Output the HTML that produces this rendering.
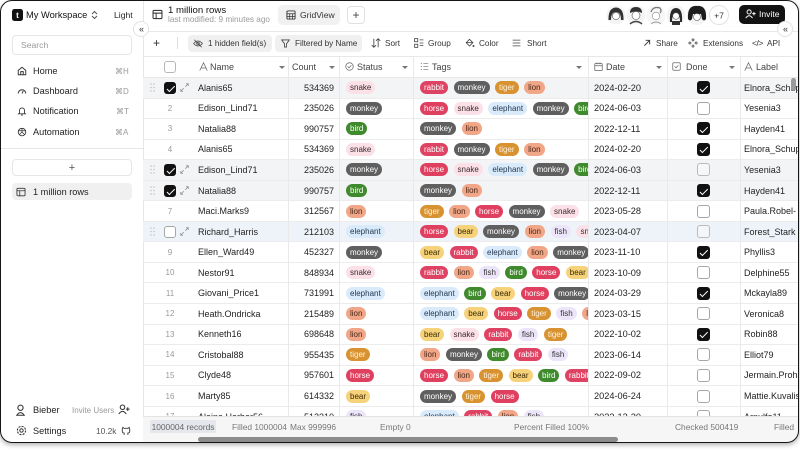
<!DOCTYPE html>
<html><head><meta charset="utf-8">
<style>
*{box-sizing:border-box}
body{margin:0;width:800px;height:450px;background:#fff;overflow:hidden;font-family:"Liberation Sans",Arial,sans-serif;color:#222;position:relative}
#fr{position:absolute;left:0;top:0;width:799px;height:443px;border-radius:12px;overflow:hidden;background:#fff;box-shadow:0 2px 5px rgba(0,0,0,.3)}
#bd{position:absolute;left:0;top:0;width:799px;height:443px;border:1.5px solid #151515;border-radius:12px;pointer-events:none}
.c{position:absolute;display:flex;align-items:center;white-space:nowrap}
.ic{position:absolute}
.sbt{font-size:9.2px;color:#222}
.kb{font-size:8px;color:#9a9a9a}
.tb{font-size:8.2px;color:#333}
.hd{font-size:9px;color:#444}
.car{position:absolute;top:65.5px;width:0;height:0;border-left:3px solid transparent;border-right:3px solid transparent;border-top:3.5px solid #777}
.vl{position:absolute;top:56px;height:360px;width:1px;background:#e9e9e9}
.r{position:absolute;left:143px;width:656px;height:20.55px;border-bottom:1px solid #ececec;font-size:9px;color:#222}
.r.sel{background:#f3f4f6}
.r.hov{background:#eef3f9}
.r>div{position:absolute;top:0;height:100%;display:flex;align-items:center;white-space:nowrap}
.no{left:17px;width:20px;justify-content:center;font-size:8px;color:#999}
.nm{left:55px}
.ct{left:145px;width:46px;justify-content:flex-end}
.st{left:203px}
.tg{left:277px;width:168px;overflow:hidden}
.dt{left:451px;font-size:9.2px}
.dn{left:554px}
.lb{left:601px}
.g{display:inline-block;flex:none;height:13px;line-height:13px;padding:0 4px;border-radius:6.5px;font-size:8px;margin-right:5.5px}
.rb{background:#df4363;color:#fff}
.ho{background:#e0405f;color:#fff}
.mo{background:#5f5f5f;color:#fff}
.ti{background:#d8922f;color:#fdf3e0}
.li{background:#f0a687;color:#4a2818}
.sn{background:#fbe1e7;color:#3a2a2e}
.el{background:#d9eafa;color:#1f3550}
.bi{background:#3f8a2c;color:#fff}
.be{background:#f6d27b;color:#3a2a00}
.fi{background:#ece5fa;color:#333}
.cb{display:inline-block;width:13px;height:13px;border:1px solid #a6a6a6;border-radius:3px;position:relative;background:#fff}
.cb.on{background:#111;border-color:#111}
.cb.on:after{content:"";position:absolute;left:4px;top:1.5px;width:3px;height:6.5px;border-right:1.6px solid #fff;border-bottom:1.6px solid #fff;transform:rotate(45deg)}
.sm{width:12px;height:12px}
.sm.on:after{left:3.6px;top:1.2px}
.hdl{left:7px;width:6px}
.ck{left:21px}
.ex{left:37px}
</style></head><body>
<div id="fr">
<!-- sidebar -->
<div style="position:absolute;left:0;top:0;width:144px;height:443px;border-right:1px solid #e6e6e6"></div>
<div class="c" style="left:12px;top:9px;width:11px;height:12px;background:#111;border-radius:2.5px;justify-content:center;color:#fff;font-size:8px;font-weight:bold">t</div>
<div class="c" style="left:26px;top:8px;height:14px;font-size:9.3px;color:#111">My Workspace</div>
<svg class="ic" style="left:91px;top:10px" width="7" height="10" viewBox="0 0 7 10"><path d="M1 4 L3.5 1.5 L6 4 M1 6 L3.5 8.5 L6 6" stroke="#555" fill="none" stroke-width="1"/></svg>
<div class="c" style="left:114px;top:8px;height:14px;font-size:8.6px;color:#222">Light</div>
<div class="c" style="left:12px;top:35px;width:120px;height:20px;border:1px solid #e6e6e6;border-radius:4px;padding-left:8px;font-size:8.6px;color:#999">Search</div>

<svg class="ic" style="left:17px;top:66px" width="10" height="10" viewBox="0 0 16 16"><path d="M2 7 L8 2 L14 7 V14 H2 Z M6 14 V9 H10 V14" stroke="#333" fill="none" stroke-width="1.5"/></svg>
<div class="c sbt" style="left:33px;top:64px;height:14px">Home</div>
<div class="c kb" style="left:115px;top:64px;height:14px">⌘H</div>
<svg class="ic" style="left:17px;top:86px" width="10" height="10" viewBox="0 0 16 16"><path d="M2 12 A6 6 0 0 1 14 12" stroke="#333" fill="none" stroke-width="1.6"/><path d="M8 12 L10 8" stroke="#333" stroke-width="1.4"/></svg>
<div class="c sbt" style="left:33px;top:84px;height:14px">Dashboard</div>
<div class="c kb" style="left:115px;top:84px;height:14px">⌘D</div>
<svg class="ic" style="left:17px;top:106px" width="10" height="10" viewBox="0 0 16 16"><path d="M4 11 V7 A4 4 0 0 1 12 7 V11 L13.5 12.5 H2.5 Z M6.5 14.5 H9.5" stroke="#333" fill="none" stroke-width="1.4"/></svg>
<div class="c sbt" style="left:33px;top:104px;height:14px">Notification</div>
<div class="c kb" style="left:116px;top:104px;height:14px">⌘T</div>
<svg class="ic" style="left:17px;top:127px" width="10" height="10" viewBox="0 0 16 16"><circle cx="8" cy="8" r="6" stroke="#333" fill="none" stroke-width="1.4"/><path d="M3 6 H13 M8 2 V8 L4 12 M8 8 L12 12" stroke="#333" fill="none" stroke-width="1.2"/></svg>
<div class="c sbt" style="left:33px;top:125px;height:14px">Automation</div>
<div class="c kb" style="left:115px;top:125px;height:14px">⌘A</div>
<div style="position:absolute;left:0;top:148px;width:143px;height:1px;background:#e6e6e6"></div>
<div class="c" style="left:12px;top:159px;width:120px;height:17px;border:1px solid #e6e6e6;border-radius:4px;justify-content:center;font-size:11px;color:#555">+</div>
<div class="c" style="left:12px;top:183px;width:120px;height:17px;background:#f0f0f0;border-radius:4px"></div>
<svg class="ic" style="left:16px;top:187px" width="10" height="10" viewBox="0 0 16 16"><rect x="1.5" y="2" width="13" height="12" rx="1.5" stroke="#333" fill="none" stroke-width="1.4"/><path d="M1.5 6 H14.5 M6 6 V14" stroke="#333" stroke-width="1.3"/></svg>
<div class="c sbt" style="left:33px;top:185px;height:14px">1 million rows</div>

<svg class="ic" style="left:16px;top:404px" width="9" height="12" viewBox="0 0 12 16"><circle cx="6" cy="5" r="3.5" stroke="#333" fill="none" stroke-width="1.4"/><path d="M1 15 Q6 8 11 15 Z" stroke="#333" fill="none" stroke-width="1.4"/></svg>
<div class="c sbt" style="left:33px;top:403px;height:14px">Bieber</div>
<div class="c" style="left:72px;top:403px;height:14px;font-size:8px;color:#999">Invite Users</div>
<svg class="ic" style="left:118px;top:404px" width="12" height="11" viewBox="0 0 16 14"><circle cx="6" cy="4" r="3" stroke="#333" fill="none" stroke-width="1.4"/><path d="M1 13 Q6 6 11 13 M13 4 V9 M10.5 6.5 H15.5" stroke="#333" fill="none" stroke-width="1.4"/></svg>
<svg class="ic" style="left:16px;top:425px" width="11" height="11" viewBox="0 0 16 16"><circle cx="8" cy="8" r="2.5" stroke="#333" fill="none" stroke-width="1.4"/><circle cx="8" cy="8" r="6" stroke="#333" fill="none" stroke-width="1.6" stroke-dasharray="3 1.7"/></svg>
<div class="c sbt" style="left:33px;top:424px;height:14px">Settings</div>
<div class="c" style="left:96px;top:424px;height:14px;font-size:8.4px;color:#555">10.2k</div>
<svg class="ic" style="left:121px;top:425px" width="10" height="11" viewBox="0 0 16 16"><path d="M5 15 V12 Q2 12 2 9 V6 L3 3 L5 4.5 H11 L13 3 L14 6 V9 Q14 12 11 12 V15" stroke="#333" fill="none" stroke-width="1.4"/></svg>

<!-- top header -->
<svg class="ic" style="left:152px;top:9px" width="11" height="11" viewBox="0 0 16 16"><rect x="1.5" y="2" width="13" height="12" rx="1.5" stroke="#222" fill="none" stroke-width="1.4"/><path d="M1.5 6 H14.5 M6 6 V14" stroke="#222" stroke-width="1.3"/></svg>
<div class="c" style="left:168px;top:4px;height:12px;font-size:9.6px;color:#111">1 million rows</div>
<div class="c" style="left:168px;top:14px;height:10px;font-size:8.2px;color:#9a9a9a">last modified: 9 minutes ago</div>
<div class="c" style="left:278px;top:5px;width:62px;height:20px;background:#f1f1f1;border-radius:5px"></div>
<svg class="ic" style="left:286px;top:10px" width="10" height="10" viewBox="0 0 16 16"><rect x="1.5" y="1.5" width="13" height="13" rx="1.5" stroke="#333" fill="none" stroke-width="1.5"/><path d="M1.5 6 H14.5 M1.5 10.5 H14.5 M6 6 V14.5 M10.5 6 V14.5" stroke="#333" stroke-width="1.2"/></svg>
<div class="c" style="left:300px;top:8px;height:14px;font-size:8.6px;color:#333">GridView</div>
<div class="c" style="left:347px;top:6px;width:18px;height:18px;border:1px solid #e0e0e0;border-radius:4px;justify-content:center;font-size:12px;color:#444">+</div>

<!-- avatars -->
<svg class="ic" style="left:605px;top:4px" width="126" height="22" viewBox="0 0 126 22">
<g><circle cx="11" cy="11" r="9.5" fill="#f4f4f4"/><path d="M3.5 16 Q3 4 11 3.5 Q19 4 18.5 16 L16 16 Q16 8 11 8 Q6 8 6 16 Z" fill="#333"/><circle cx="11" cy="12" r="3.6" fill="#fff" stroke="#555" stroke-width=".6"/></g>
<g><circle cx="31" cy="11" r="9.5" fill="#f4f4f4"/><path d="M25 9 Q25 3 31 3 Q37 3 37 9 Q31 6 25 9Z" fill="#333"/><circle cx="31" cy="11.5" r="4" fill="#fff" stroke="#555" stroke-width=".6"/><path d="M25 20 Q31 15 37 20" stroke="#444" fill="none" stroke-width="1.5"/></g>
<g><circle cx="51" cy="11" r="9.5" fill="#f6f6f6"/><path d="M46 8 Q48 2 55 4 Q57 7 55 9" stroke="#777" fill="none" stroke-width="1.2"/><circle cx="51" cy="12" r="3.8" fill="#fff" stroke="#888" stroke-width=".6"/><path d="M46 20 Q51 16 56 20" stroke="#999" fill="none"/></g>
<g><circle cx="71" cy="11" r="9.5" fill="#f4f4f4"/><path d="M65 18 Q64 4 71 4 Q78 4 77 18 L75 18 Q75 9 71 9 Q67 9 67 18Z" fill="#2a2a2a"/><circle cx="71" cy="12" r="3.3" fill="#fff" stroke="#555" stroke-width=".6"/><rect x="67" y="17" width="8" height="4" fill="#333"/></g>
<g><circle cx="92" cy="11" r="10" fill="#f4f4f4"/><path d="M83 15 Q82 1 92 2 Q102 1 101 15 Q99 18 97 15 L96 10 L88 10 L87 15 Q85 18 83 15Z" fill="#1e1e1e"/><circle cx="92" cy="13" r="3.5" fill="#fff" stroke="#555" stroke-width=".6"/></g>
<circle cx="114" cy="11" r="9.5" fill="#fff" stroke="#e2e2e2"/>
<text x="114" y="14.3" text-anchor="middle" font-family="Liberation Sans, Arial, sans-serif" font-size="8.6" fill="#333">+7</text>
</svg>
<div class="c" style="left:739px;top:5px;width:46px;height:19px;background:#121212;border-radius:5px"></div>
<svg class="ic" style="left:745px;top:9px" width="11" height="10" viewBox="0 0 16 14"><circle cx="6" cy="4" r="3" stroke="#fff" fill="none" stroke-width="1.4"/><path d="M1 13 Q6 6 11 13 M13 4 V9 M10.5 6.5 H15.5" stroke="#fff" fill="none" stroke-width="1.4"/></svg>
<div class="c" style="left:759px;top:7px;height:14px;font-size:8.6px;color:#fff">Invite</div>

<div style="position:absolute;left:143px;top:31px;width:656px;height:1px;background:#e8e8e8"></div>

<!-- toolbar -->
<div class="c" style="left:153px;top:36px;height:14px;font-size:12px;color:#333">+</div>
<div style="position:absolute;left:177px;top:37px;width:1px;height:12px;background:#ddd"></div>
<div style="position:absolute;left:188px;top:35px;width:84px;height:17px;background:#f0f0f0;border-radius:4px"></div>
<svg class="ic" style="left:193px;top:39px" width="10" height="9" viewBox="0 0 16 14"><path d="M1 7 Q8 -1 15 7 Q8 15 1 7Z" stroke="#444" fill="none" stroke-width="1.3"/><circle cx="8" cy="7" r="2.2" stroke="#444" fill="none" stroke-width="1.2"/><path d="M2 1 L14 13" stroke="#444" stroke-width="1.3"/></svg>
<div class="c tb" style="left:208px;top:36px;height:14px">1 hidden field(s)</div>
<div style="position:absolute;left:275px;top:35px;width:87px;height:17px;background:#f0f0f0;border-radius:4px"></div>
<svg class="ic" style="left:281px;top:39px" width="9" height="9" viewBox="0 0 14 14"><path d="M1 1.5 H13 L8.5 7.5 V12.5 H5.5 V7.5 Z" stroke="#444" fill="none" stroke-width="1.3"/></svg>
<div class="c tb" style="left:295px;top:36px;height:14px">Filtered by Name</div>
<svg class="ic" style="left:371px;top:38px" width="10" height="10" viewBox="0 0 14 14"><path d="M4 1 V13 M1 10 L4 13 L7 10 M10 13 V1 M7 4 L10 1 L13 4" stroke="#444" fill="none" stroke-width="1.2"/></svg>
<div class="c tb" style="left:385px;top:36px;height:14px">Sort</div>
<svg class="ic" style="left:414px;top:38px" width="10" height="10" viewBox="0 0 16 16"><rect x="1" y="1" width="5" height="5" stroke="#444" fill="none" stroke-width="1.3"/><rect x="1" y="10" width="5" height="5" stroke="#444" fill="none" stroke-width="1.3"/><path d="M9 3 H15 M9 8 H15 M9 12 H15" stroke="#444" stroke-width="1.3"/></svg>
<div class="c tb" style="left:428px;top:36px;height:14px">Group</div>
<svg class="ic" style="left:464px;top:38px" width="11" height="10" viewBox="0 0 16 15"><path d="M3 7 L8 2 L13 7 L8 12 Z" stroke="#444" fill="none" stroke-width="1.3"/><path d="M3 7 H13" stroke="#444" stroke-width="1.2"/><circle cx="14" cy="12" r="1.5" fill="#444"/></svg>
<div class="c tb" style="left:479px;top:36px;height:14px">Color</div>
<svg class="ic" style="left:512px;top:39px" width="9" height="8" viewBox="0 0 14 12"><path d="M1 1.5 H13 M1 6 H13 M1 10.5 H13" stroke="#444" stroke-width="1.3"/></svg>
<div class="c tb" style="left:527px;top:36px;height:14px">Short</div>
<svg class="ic" style="left:643px;top:39px" width="8" height="8" viewBox="0 0 12 12"><path d="M2 10 L10 2 M4 2 H10 V8" stroke="#333" fill="none" stroke-width="1.4"/></svg>
<div class="c tb" style="left:656px;top:36px;height:14px">Share</div>
<svg class="ic" style="left:688px;top:38px" width="10" height="10" viewBox="0 0 16 16"><path d="M8 1 L10 3 L8 5 L6 3Z M8 11 L10 13 L8 15 L6 13Z M1 8 L3 6 L5 8 L3 10Z M11 8 L13 6 L15 8 L13 10Z" stroke="#444" fill="none" stroke-width="1.1"/></svg>
<div class="c tb" style="left:703px;top:36px;height:14px">Extensions</div>
<div class="c" style="left:752px;top:36px;height:14px;font-size:8.5px;color:#333;letter-spacing:-.5px">&lt;/&gt;</div>
<div class="c tb" style="left:767px;top:36px;height:14px">API</div>

<!-- table header -->
<div style="position:absolute;left:143px;top:56px;width:656px;height:1px;background:#e8e8e8"></div>
<div style="position:absolute;left:143px;top:77px;width:656px;height:1px;background:#e8e8e8"></div>
<div style="position:absolute;left:164px;top:61px;width:12px;height:12px;border:1px solid #b8b8b8;border-radius:3px"></div>
<svg class="ic" style="left:199px;top:62px" width="9" height="9" viewBox="0 0 12 12"><path d="M1 11.5 L6 1 L11 11.5 M3 8 H9" stroke="#666" fill="none" stroke-width="1"/></svg>
<div class="c hd" style="left:210px;top:60px;height:14px">Name</div>
<div class="car" style="left:279px"></div>
<div class="c hd" style="left:292px;top:60px;height:14px">Count</div>
<div class="car" style="left:329px"></div>
<svg class="ic" style="left:345px;top:62px" width="9" height="9" viewBox="0 0 12 12"><circle cx="6" cy="6" r="5" stroke="#666" fill="none" stroke-width="1"/><path d="M3.5 6 L5.3 7.8 L8.5 4.5" stroke="#666" fill="none" stroke-width="1"/></svg>
<div class="c hd" style="left:357px;top:60px;height:14px">Status</div>
<div class="car" style="left:402px"></div>
<svg class="ic" style="left:420px;top:62px" width="9" height="9" viewBox="0 0 12 12"><path d="M4.5 2 H11 M4.5 6 H11 M4.5 10 H11" stroke="#888" stroke-width="1"/><circle cx="1.8" cy="2" r=".8" fill="#888"/><circle cx="1.8" cy="6" r=".8" fill="#888"/><circle cx="1.8" cy="10" r=".8" fill="#888"/></svg>
<div class="c hd" style="left:432px;top:60px;height:14px">Tags</div>
<div class="car" style="left:576px"></div>
<svg class="ic" style="left:594px;top:62px" width="9" height="9" viewBox="0 0 12 12"><rect x="1" y="2" width="10" height="9.5" rx="1" stroke="#666" fill="none" stroke-width="1"/><path d="M1 5 H11 M4 0.5 V3 M8 0.5 V3" stroke="#666" stroke-width="1"/></svg>
<div class="c hd" style="left:606px;top:60px;height:14px">Date</div>
<div class="car" style="left:656px"></div>
<svg class="ic" style="left:672px;top:62px" width="9" height="9" viewBox="0 0 12 12"><rect x="1" y="1" width="10" height="10" rx="1.5" stroke="#666" fill="none" stroke-width="1"/><path d="M3.5 6 L5.3 7.8 L8.5 4.5" stroke="#666" fill="none" stroke-width="1"/></svg>
<div class="c hd" style="left:686px;top:60px;height:14px">Done</div>
<div class="car" style="left:729px"></div>
<svg class="ic" style="left:744px;top:62px" width="9" height="9" viewBox="0 0 12 12"><path d="M1 11.5 L6 1 L11 11.5 M3 8 H9" stroke="#666" fill="none" stroke-width="1"/></svg>
<div class="c hd" style="left:756px;top:60px;height:14px">Label</div>

<!-- rows -->
<div class="r sel" style="top:78px"><div class="hdl"><svg width="6" height="9"><g fill="#c4c4c4"><circle cx="1" cy="1" r=".8"/><circle cx="4" cy="1" r=".8"/><circle cx="1" cy="4.5" r=".8"/><circle cx="4" cy="4.5" r=".8"/><circle cx="1" cy="8" r=".8"/><circle cx="4" cy="8" r=".8"/></g></svg></div><div class="ck"><span class="cb sm on"></span></div><div class="ex"><svg width="9" height="9" viewBox="0 0 12 12"><path d="M7 5 L11 1 M8 1 H11 V4 M5 7 L1 11 M1 8 V11 H4" stroke="#888" fill="none" stroke-width="1"/></svg></div><div class="nm">Alanis65</div><div class="ct">534369</div><div class="st"><span class="g sn">snake</span></div><div class="tg"><span class="g rb">rabbit</span><span class="g mo">monkey</span><span class="g ti">tiger</span><span class="g li">lion</span></div><div class="dt">2024-02-20</div><div class="dn"><span class="cb on"></span></div><div class="lb">Elnora_Schuppe</div></div>

<div class="r" style="top:98.55px"><div class="no">2</div><div class="nm">Edison_Lind71</div><div class="ct">235026</div><div class="st"><span class="g mo">monkey</span></div><div class="tg"><span class="g ho">horse</span><span class="g sn">snake</span><span class="g el">elephant</span><span class="g mo">monkey</span><span class="g bi">bird</span></div><div class="dt">2024-06-03</div><div class="dn"><span class="cb"></span></div><div class="lb">Yesenia3</div></div>

<div class="r" style="top:119.1px"><div class="no">3</div><div class="nm">Natalia88</div><div class="ct">990757</div><div class="st"><span class="g bi">bird</span></div><div class="tg"><span class="g mo">monkey</span><span class="g li">lion</span></div><div class="dt">2022-12-11</div><div class="dn"><span class="cb on"></span></div><div class="lb">Hayden41</div></div>

<div class="r" style="top:139.65px"><div class="no">4</div><div class="nm">Alanis65</div><div class="ct">534369</div><div class="st"><span class="g sn">snake</span></div><div class="tg"><span class="g rb">rabbit</span><span class="g mo">monkey</span><span class="g ti">tiger</span><span class="g li">lion</span></div><div class="dt">2024-02-20</div><div class="dn"><span class="cb on"></span></div><div class="lb">Elnora_Schuppe</div></div>

<div class="r sel" style="top:160.2px"><div class="hdl"><svg width="6" height="9"><g fill="#c4c4c4"><circle cx="1" cy="1" r=".8"/><circle cx="4" cy="1" r=".8"/><circle cx="1" cy="4.5" r=".8"/><circle cx="4" cy="4.5" r=".8"/><circle cx="1" cy="8" r=".8"/><circle cx="4" cy="8" r=".8"/></g></svg></div><div class="ck"><span class="cb sm on"></span></div><div class="ex"><svg width="9" height="9" viewBox="0 0 12 12"><path d="M7 5 L11 1 M8 1 H11 V4 M5 7 L1 11 M1 8 V11 H4" stroke="#888" fill="none" stroke-width="1"/></svg></div><div class="nm">Edison_Lind71</div><div class="ct">235026</div><div class="st"><span class="g mo">monkey</span></div><div class="tg"><span class="g ho">horse</span><span class="g sn">snake</span><span class="g el">elephant</span><span class="g mo">monkey</span><span class="g bi">bird</span></div><div class="dt">2024-06-03</div><div class="dn"><span class="cb" style="background:#f7f7f7;border-color:#bbb"></span></div><div class="lb">Yesenia3</div></div>

<div class="r sel" style="top:180.75px"><div class="hdl"><svg width="6" height="9"><g fill="#c4c4c4"><circle cx="1" cy="1" r=".8"/><circle cx="4" cy="1" r=".8"/><circle cx="1" cy="4.5" r=".8"/><circle cx="4" cy="4.5" r=".8"/><circle cx="1" cy="8" r=".8"/><circle cx="4" cy="8" r=".8"/></g></svg></div><div class="ck"><span class="cb sm on"></span></div><div class="ex"><svg width="9" height="9" viewBox="0 0 12 12"><path d="M7 5 L11 1 M8 1 H11 V4 M5 7 L1 11 M1 8 V11 H4" stroke="#888" fill="none" stroke-width="1"/></svg></div><div class="nm">Natalia88</div><div class="ct">990757</div><div class="st"><span class="g bi">bird</span></div><div class="tg"><span class="g mo">monkey</span><span class="g li">lion</span></div><div class="dt">2022-12-11</div><div class="dn"><span class="cb on"></span></div><div class="lb">Hayden41</div></div>

<div class="r" style="top:201.3px"><div class="no">7</div><div class="nm">Maci.Marks9</div><div class="ct">312567</div><div class="st"><span class="g li">lion</span></div><div class="tg"><span class="g ti">tiger</span><span class="g li">lion</span><span class="g ho">horse</span><span class="g mo">monkey</span><span class="g sn">snake</span></div><div class="dt">2023-05-28</div><div class="dn"><span class="cb"></span></div><div class="lb">Paula.Robel-</div></div>

<div class="r hov" style="top:221.85px"><div class="hdl"><svg width="6" height="9"><g fill="#c4c4c4"><circle cx="1" cy="1" r=".8"/><circle cx="4" cy="1" r=".8"/><circle cx="1" cy="4.5" r=".8"/><circle cx="4" cy="4.5" r=".8"/><circle cx="1" cy="8" r=".8"/><circle cx="4" cy="8" r=".8"/></g></svg></div><div class="ck"><span class="cb sm"></span></div><div class="ex"><svg width="9" height="9" viewBox="0 0 12 12"><path d="M7 5 L11 1 M8 1 H11 V4 M5 7 L1 11 M1 8 V11 H4" stroke="#888" fill="none" stroke-width="1"/></svg></div><div class="nm">Richard_Harris</div><div class="ct">212103</div><div class="st"><span class="g el">elephant</span></div><div class="tg"><span class="g ho">horse</span><span class="g be">bear</span><span class="g mo">monkey</span><span class="g li">lion</span><span class="g fi">fish</span><span class="g sn">snake</span></div><div class="dt">2023-04-07</div><div class="dn"><span class="cb" style="background:#f4f6f9;border-color:#bbb"></span></div><div class="lb">Forest_Stark</div></div>

<div class="r" style="top:242.4px"><div class="no">9</div><div class="nm">Ellen_Ward49</div><div class="ct">452327</div><div class="st"><span class="g mo">monkey</span></div><div class="tg"><span class="g be">bear</span><span class="g rb">rabbit</span><span class="g el">elephant</span><span class="g li">lion</span><span class="g mo">monkey</span></div><div class="dt">2023-11-10</div><div class="dn"><span class="cb on"></span></div><div class="lb">Phyllis3</div></div>

<div class="r" style="top:262.95px"><div class="no">10</div><div class="nm">Nestor91</div><div class="ct">848934</div><div class="st"><span class="g sn">snake</span></div><div class="tg"><span class="g rb">rabbit</span><span class="g li">lion</span><span class="g fi">fish</span><span class="g bi">bird</span><span class="g ho">horse</span><span class="g be">bear</span></div><div class="dt">2023-10-09</div><div class="dn"><span class="cb"></span></div><div class="lb">Delphine55</div></div>

<div class="r" style="top:283.5px"><div class="no">11</div><div class="nm">Giovani_Price1</div><div class="ct">731991</div><div class="st"><span class="g el">elephant</span></div><div class="tg"><span class="g el">elephant</span><span class="g bi">bird</span><span class="g be">bear</span><span class="g ho">horse</span><span class="g mo">monkey</span></div><div class="dt">2024-03-29</div><div class="dn"><span class="cb on"></span></div><div class="lb">Mckayla89</div></div>

<div class="r" style="top:304.05px"><div class="no">12</div><div class="nm">Heath.Ondricka</div><div class="ct">215489</div><div class="st"><span class="g li">lion</span></div><div class="tg"><span class="g el">elephant</span><span class="g be">bear</span><span class="g ho">horse</span><span class="g ti">tiger</span><span class="g fi">fish</span><span class="g li">lion</span></div><div class="dt">2023-03-15</div><div class="dn"><span class="cb"></span></div><div class="lb">Veronica8</div></div>

<div class="r" style="top:324.6px"><div class="no">13</div><div class="nm">Kenneth16</div><div class="ct">698648</div><div class="st"><span class="g li">lion</span></div><div class="tg"><span class="g be">bear</span><span class="g sn">snake</span><span class="g rb">rabbit</span><span class="g fi">fish</span><span class="g ti">tiger</span></div><div class="dt">2022-10-02</div><div class="dn"><span class="cb on"></span></div><div class="lb">Robin88</div></div>

<div class="r" style="top:345.15px"><div class="no">14</div><div class="nm">Cristobal88</div><div class="ct">955435</div><div class="st"><span class="g ti">tiger</span></div><div class="tg"><span class="g li">lion</span><span class="g mo">monkey</span><span class="g bi">bird</span><span class="g rb">rabbit</span><span class="g fi">fish</span></div><div class="dt">2023-06-14</div><div class="dn"><span class="cb"></span></div><div class="lb">Elliot79</div></div>

<div class="r" style="top:365.7px"><div class="no">15</div><div class="nm">Clyde48</div><div class="ct">957601</div><div class="st"><span class="g ho">horse</span></div><div class="tg"><span class="g ho">horse</span><span class="g li">lion</span><span class="g ti">tiger</span><span class="g be">bear</span><span class="g bi">bird</span><span class="g rb">rabbit</span></div><div class="dt">2022-09-02</div><div class="dn"><span class="cb"></span></div><div class="lb">Jermain.Prohaska</div></div>

<div class="r" style="top:386.25px"><div class="no">16</div><div class="nm">Marty85</div><div class="ct">614332</div><div class="st"><span class="g be">bear</span></div><div class="tg"><span class="g mo">monkey</span><span class="g ti">tiger</span><span class="g ho">horse</span></div><div class="dt">2024-06-24</div><div class="dn"><span class="cb"></span></div><div class="lb">Mattie.Kuvalis</div></div>

<div class="r" style="top:406.8px"><div class="no">17</div><div class="nm">Alaina.Harber56</div><div class="ct">512310</div><div class="st"><span class="g fi">fish</span></div><div class="tg"><span class="g el">elephant</span><span class="g rb">rabbit</span><span class="g li">lion</span><span class="g fi">fish</span></div><div class="dt">2023-12-20</div><div class="dn"><span class="cb"></span></div><div class="lb">Arnulfo11</div></div>

<!-- column lines -->
<div class="vl" style="left:288px"></div>
<div class="vl" style="left:339px"></div>
<div class="vl" style="left:413px"></div>
<div class="vl" style="left:588px"></div>
<div class="vl" style="left:667px"></div>
<div class="vl" style="left:740px"></div>

<!-- vertical scrollbar -->
<div style="position:absolute;left:791px;top:78px;width:5px;height:13px;background:#9a9a9a;border-radius:3px"></div>

<!-- footer -->
<div style="position:absolute;left:143px;top:416px;width:656px;height:27px;background:#f6f6f6;border-top:1px solid #e4e4e4"></div>
<div class="c" style="left:150px;top:420px;width:66px;height:13px;background:#e5e7ec;border-radius:2px;justify-content:center;font-size:8.4px;color:#666">1000004 records</div>
<div class="c" style="left:232px;top:420px;height:13px;font-size:8.4px;color:#777">Filled 1000004</div>
<div class="c" style="left:290px;top:420px;height:13px;font-size:8.4px;color:#777">Max 999996</div>
<div class="c" style="left:380px;top:420px;height:13px;font-size:8.4px;color:#777">Empty 0</div>
<div class="c" style="left:514px;top:420px;height:13px;font-size:8.4px;color:#777">Percent Filled 100%</div>
<div class="c" style="left:675px;top:420px;height:13px;font-size:8.4px;color:#777">Checked 500419</div>
<div class="c" style="left:774px;top:420px;height:13px;font-size:8.4px;color:#777">Filled</div>
<div style="position:absolute;left:198px;top:437px;width:420px;height:4.5px;background:#8c8c8c;border-radius:3px"></div>

<!-- collapse buttons -->
<div class="c" style="left:133px;top:21px;width:16px;height:16px;border-radius:50%;background:#fff;border:1px solid #e2e2e2;justify-content:center;font-size:9px;color:#333;letter-spacing:-1px">«</div>
<div class="c" style="left:777px;top:21px;width:16px;height:16px;border-radius:50%;background:#fff;border:1px solid #e2e2e2;justify-content:center;font-size:9px;color:#333;letter-spacing:-1px">«</div>
</div>
<div id="bd"></div>
</body></html>
